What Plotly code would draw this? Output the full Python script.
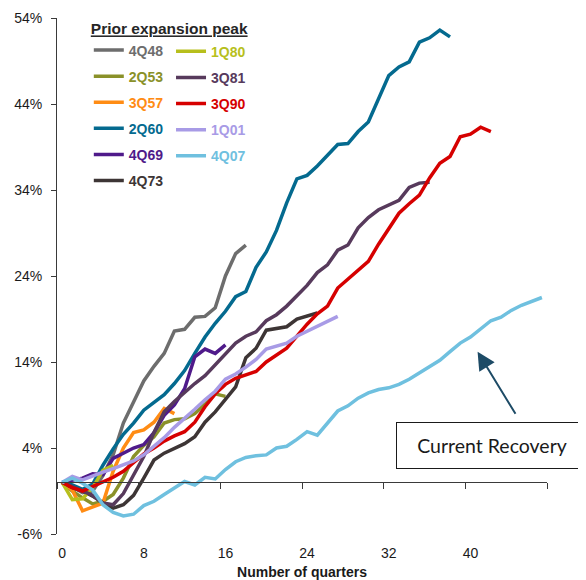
import plotly.graph_objects as go

# ---- data (percent change from prior expansion peak, by quarter) ----
series_names = ["4Q48", "2Q53", "3Q57", "2Q60", "4Q69", "4Q73",
                "1Q80", "3Q81", "3Q90", "1Q01", "4Q07"]

v_4Q48 = [0, -0.5, -1.2, -1.0, 0.8, 3.2, 6.9, 9.3, 11.8, 13.5, 15.0, 17.6, 17.8, 19.2, 19.3, 20.3,
          24.0, 26.6, 27.6]
v_2Q53 = [0, -1.0, -1.8, -2.5, -2.2, -1.4, 0.5, 3.0, 4.3, 5.3, 6.9, 7.3, 7.4, 8.0, 9.1, 10.3, 10.0]
v_3Q57 = [0, -0.9, -3.3, -2.8, -2.4, 1.3, 4.0, 5.8, 6.1, 7.0, 8.6, 8.0]
v_2Q60 = [0, -0.3, -0.8, -0.2, 2.0, 3.9, 5.6, 6.9, 8.4, 9.3, 10.2, 11.5, 13.0, 15.0, 16.9, 18.5,
          19.9, 21.6, 22.2, 25.0, 26.8, 29.3, 32.5, 35.3, 35.7, 36.8, 38.0, 39.3, 39.4, 40.8, 41.9,
          44.7, 47.3, 48.3, 48.9, 51.2, 51.7, 52.6, 51.8]
v_4Q69 = [0, 0.2, 0.5, 1.0, 0.9, 2.8, 3.4, 4.0, 4.4, 5.8, 7.8, 9.0, 10.9, 14.6, 15.5, 15.0, 16.0]
v_4Q73 = [0, -0.6, -1.0, -1.6, -2.4, -3.0, -2.6, -1.5, 0.5, 2.6, 3.4, 4.0, 4.5, 5.3, 7.0, 8.2,
          9.6, 11.1, 14.5, 15.6, 17.7, 17.9, 18.1, 19.0, 19.3, 19.7]
v_1Q80 = [0, -2.0, -1.9, -0.6, 1.4, 2.0]
v_3Q81 = [0, -0.5, -1.1, -1.5, -2.4, -2.6, -1.3, 0.8, 3.0, 5.8, 8.2, 9.4, 10.5, 11.5, 12.4, 13.7,
          15.0, 16.2, 17.0, 17.5, 18.8, 19.5, 20.5, 21.7, 22.9, 24.4, 25.3, 27.0, 27.6, 29.6, 30.8,
          31.7, 32.3, 32.8, 34.3, 34.8, 34.9]
v_3Q90 = [0, -0.6, -1.0, -0.5, 0.0, 0.6, 1.3, 2.3, 3.3, 4.0, 4.8, 5.4, 5.9, 7.0, 8.8, 10.3,
          11.4, 12.1, 12.5, 12.9, 14.0, 14.8, 15.6, 17.0, 18.4, 19.6, 20.5, 22.6, 23.6, 24.6, 25.7,
          27.7, 29.5, 31.3, 32.4, 33.4, 35.4, 37.1, 37.9, 40.2, 40.5, 41.3, 40.8]
v_1Q01 = [0, 0.7, 0.3, 0.8, 1.2, 1.6, 2.0, 2.5, 3.2, 4.2, 5.2, 6.4, 7.4, 8.5, 9.6, 10.6,
          12.0, 12.6, 13.4, 14.3, 15.5, 15.8, 16.2, 17.0, 17.6, 18.2, 18.8, 19.3]
v_4Q07 = [0, 0.5, -0.1, -0.9, -2.6, -3.5, -3.9, -3.7, -2.7, -2.2, -1.4, -0.6, 0.1, -0.3, 0.6, 0.4,
          1.5, 2.4, 2.9, 3.1, 3.2, 4.0, 4.2, 5.0, 5.9, 5.5, 6.9, 8.3, 8.9, 9.8, 10.4,
          10.8, 11.0, 11.4, 12.0, 12.7, 13.4, 14.2, 15.2, 16.2, 16.9, 17.8, 18.8, 19.2, 20.0, 20.6,
          21.0, 21.5]

series_values = [v_4Q48, v_2Q53, v_3Q57, v_2Q60, v_4Q69, v_4Q73,
                 v_1Q80, v_3Q81, v_3Q90, v_1Q01, v_4Q07]

x_tick_vals = [0, 8, 16, 24, 32, 40]
y_tick_vals = [-6, 4, 14, 24, 34, 44, 54]

# ---- styles ----
colors = ["#6d6d6d", "#8a9129", "#ff8c14", "#046a8f", "#4f1a8a", "#3d3535",
          "#b7bf1c", "#573a5c", "#d60000", "#a89be6", "#6fc0df"]
legend_of = ["legend"] * 6 + ["legend2"] * 5

FONT = "Liberation Sans, Arial, sans-serif"
AX = "#3a3a3a"

fig = go.Figure()
for name, vals, col, lg in zip(series_names, series_values, colors, legend_of):
    fig.add_trace(go.Scatter(
        x=list(range(len(vals))), y=vals, mode="lines",
        name=f"<b><span style='color:{col}'>{name}</span></b>",
        legendgroup=name, legend=lg,
        line=dict(color=col, width=3.5),
        hoverinfo="skip",
    ))

x_range = [-0.5, 47.5]
bounds = [-0.5 + 8 * i for i in range(7)]

# page body has an 8px margin, so the figure is sized/positioned to compensate
fig.update_layout(
    width=578, height=572,
    margin=dict(l=49, r=39, t=10, b=46, autoexpand=False),
    paper_bgcolor="white", plot_bgcolor="white",
    font=dict(family=FONT, size=14, color="#1a1a1a"),
    showlegend=True,
    xaxis=dict(
        range=x_range, anchor="free", position=0.1, automargin=False,
        tickmode="array", tickvals=bounds, ticktext=[""] * len(bounds),
        ticks="outside", ticklen=6, tickcolor=AX, tickwidth=1,
        showline=True, linecolor=AX, linewidth=1,
        showgrid=False, zeroline=False, showticklabels=False,
    ),
    xaxis2=dict(
        range=x_range, overlaying="x", anchor="y", side="bottom", automargin=False,
        tickmode="array", tickvals=x_tick_vals, ticktext=[str(v) for v in x_tick_vals],
        ticks="", showline=False, showgrid=False, zeroline=False,
        ticklabelstandoff=9,
        tickfont=dict(size=14, color="#1a1a1a"),
        title=dict(text="<b>Number of quarters</b>", font=dict(size=14, color="#1a1a1a"), standoff=7),
    ),
    yaxis=dict(
        range=[-6, 54], tickmode="array", tickvals=y_tick_vals, automargin=False,
        ticktext=[f"{v}%" for v in y_tick_vals],
        ticks="outside", ticklen=5, tickcolor=AX,
        showline=True, linecolor=AX, linewidth=1,
        showgrid=False, zeroline=False, ticklabelstandoff=6,
        tickfont=dict(size=14, color="#1a1a1a"),
    ),
    legend=dict(
        title=dict(text="<b><u>Prior expansion peak</u></b>", font=dict(size=15.5, color="#262626")),
        x=0.0649, y=0.9890, xanchor="left", yanchor="top", yref="container",
        bgcolor="rgba(0,0,0,0)", font=dict(size=14),
        traceorder="grouped", tracegroupgap=4.9, itemwidth=30,
    ),
    legend2=dict(
        x=0.2327, y=0.9515, xanchor="left", yanchor="top", yref="container",
        bgcolor="rgba(0,0,0,0)", font=dict(size=14),
        traceorder="grouped", tracegroupgap=4.9, itemwidth=30,
    ),
)
# dummy trace so xaxis2 is drawn
fig.add_trace(go.Scatter(x=[None], y=[None], xaxis="x2", showlegend=False, hoverinfo="skip"))

# arrow pointing to the current recovery line
fig.add_annotation(x=40.7, y=15.2, ax=44.5, ay=7.8, xref="x", yref="y", axref="x", ayref="y",
                   text="", showarrow=True, arrowhead=2, arrowsize=1.8, arrowwidth=2,
                   arrowcolor="#1d4b66")
# label box
fig.add_annotation(x=32.73, y=4.3, xref="x", yref="y", text="Current Recovery",
                   showarrow=False, xanchor="left", yanchor="middle", align="center",
                   width=190, height=45, borderpad=0, borderwidth=1, bordercolor="#1a1a1a",
                   bgcolor="white", font=dict(family="Lato, sans-serif", size=19.5, color="#1a1a1a"))

fig.write_html("out.html")
